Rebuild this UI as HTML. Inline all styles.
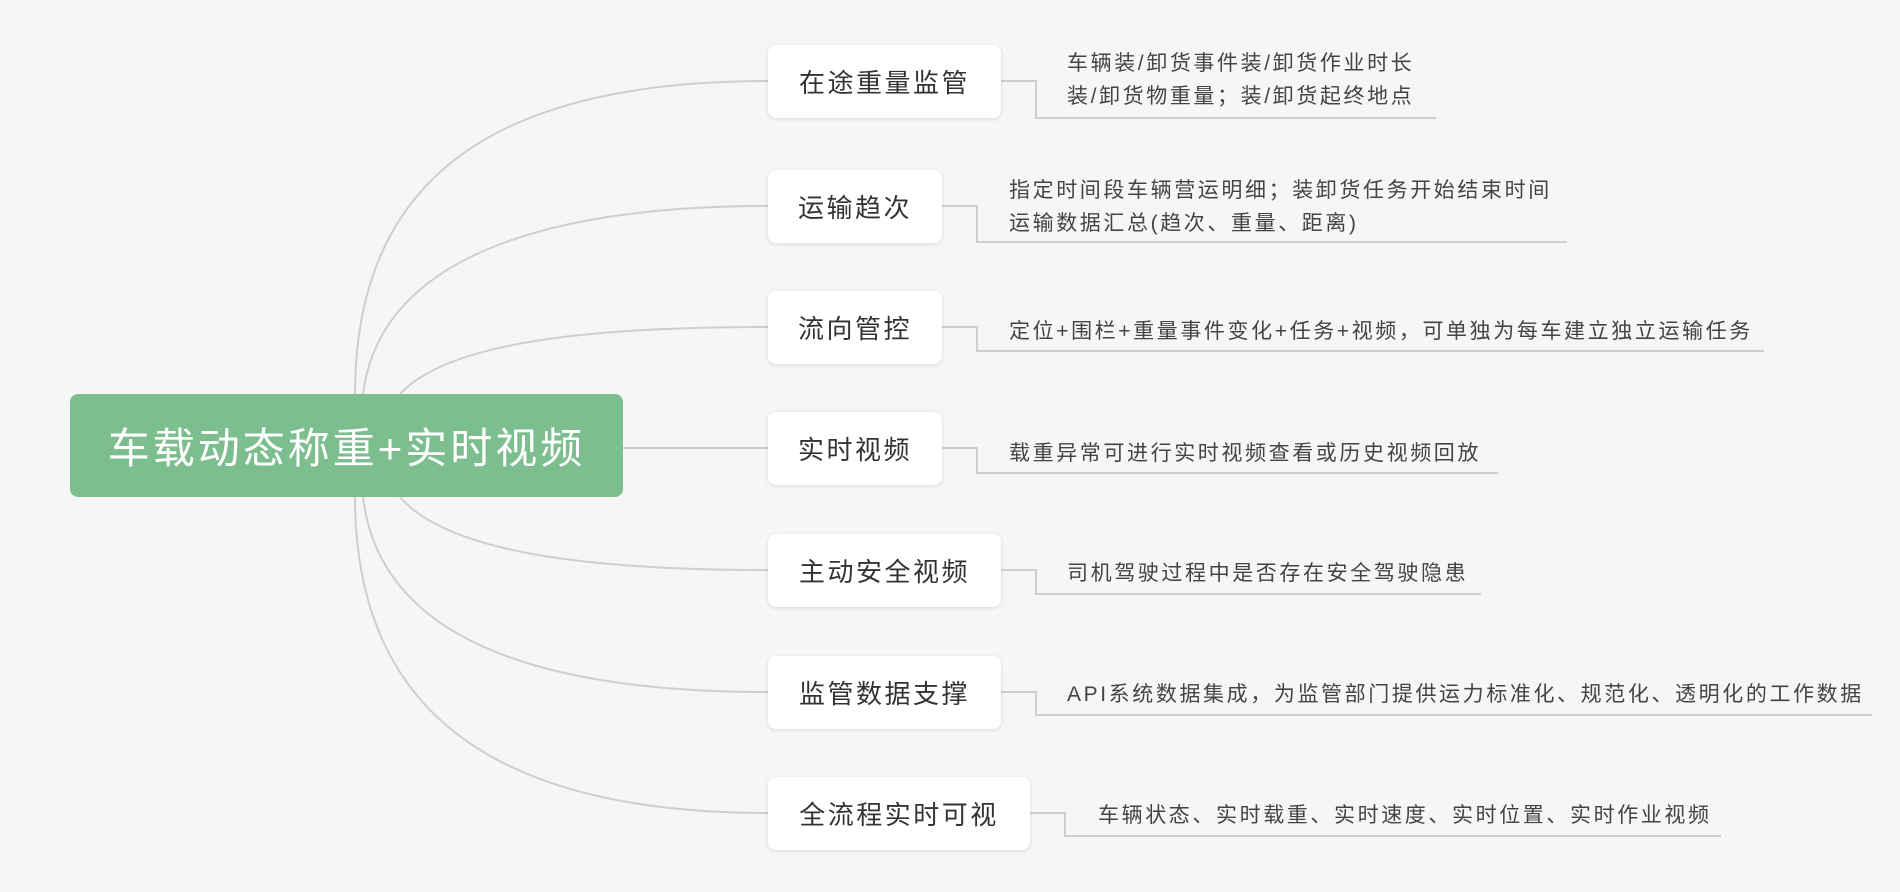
<!DOCTYPE html>
<html><head><meta charset="utf-8"><style>
body{margin:0;width:1900px;height:892px;background:#f6f6f6;position:relative;overflow:hidden;font-family:"Liberation Sans","Noto Sans CJK SC",sans-serif}
.root{position:absolute;left:70px;top:394px;width:553px;height:103px;background:#7dbe8f;border-radius:8px;color:#fff;font-size:42px;letter-spacing:3px;display:flex;align-items:center;justify-content:center}
.n{position:absolute;left:768px;height:73px;background:#fff;border-radius:8px;box-shadow:0 1px 4px rgba(0,0,0,.12);color:#333;font-size:26px;letter-spacing:2.5px;display:flex;align-items:center;justify-content:center}
.t{position:absolute;color:#444;font-size:21px;letter-spacing:2.6px;line-height:33px;white-space:nowrap}
svg{position:absolute;left:0;top:0}
</style></head><body>
<svg width="1900" height="892" fill="none" stroke="#cfcfcf" stroke-width="2">
<path d="M355 394 C355 160 520 81 768 81"/>
<path d="M363 394 C380 260 540 206 768 206"/>
<path d="M400 394 C450 340 600 327 768 327"/>
<path d="M623 448 L768 448"/>
<path d="M400 497 C450 555 600 570 768 570"/>
<path d="M363 497 C380 640 540 692 768 692"/>
<path d="M355 497 C355 730 520 813 768 813"/>
<path d="M1001 81 H1036 V118 H1436"/>
<path d="M942 206 H977 V242 H1567"/>
<path d="M942 327 H977 V351 H1764"/>
<path d="M942 448 H977 V473 H1498"/>
<path d="M1001 570 H1036 V594 H1481"/>
<path d="M1001 692 H1036 V715 H1872"/>
<path d="M1030 813 H1065 V836 H1721"/>
</svg>
<div class="root">车载动态称重+实时视频</div>
<div class="n" style="top:45px;width:233px">在途重量监管</div>
<div class="n" style="top:170px;width:174px">运输趋次</div>
<div class="n" style="top:291px;width:174px">流向管控</div>
<div class="n" style="top:412px;width:174px">实时视频</div>
<div class="n" style="top:534px;width:233px">主动安全视频</div>
<div class="n" style="top:656px;width:233px">监管数据支撑</div>
<div class="n" style="top:777px;width:262px">全流程实时可视</div>
<div class="t" style="left:1067px;top:47px">车辆装/卸货事件装/卸货作业时长<br>装/卸货物重量；装/卸货起终地点</div>
<div class="t" style="left:1009px;top:174px">指定时间段车辆营运明细；装卸货任务开始结束时间<br>运输数据汇总(趋次、重量、距离)</div>
<div class="t" style="left:1009px;top:315px">定位+围栏+重量事件变化+任务+视频，可单独为每车建立独立运输任务</div>
<div class="t" style="left:1009px;top:437px">载重异常可进行实时视频查看或历史视频回放</div>
<div class="t" style="left:1067px;top:557px">司机驾驶过程中是否存在安全驾驶隐患</div>
<div class="t" style="left:1067px;top:678px">API系统数据集成，为监管部门提供运力标准化、规范化、透明化的工作数据</div>
<div class="t" style="left:1098px;top:799px">车辆状态、实时载重、实时速度、实时位置、实时作业视频</div>
</body></html>
